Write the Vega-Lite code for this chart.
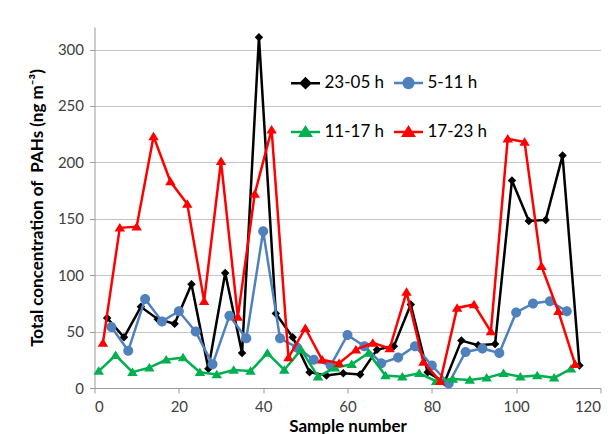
{
  "$schema": "https://vega.github.io/schema/vega-lite/v6.json",
  "width": 506,
  "height": 361,
  "autosize": "none",
  "padding": {"left": 94.5, "top": 27, "right": 13.5, "bottom": 46},
  "background": "white",
  "config": {
    "view": {"stroke": null},
    "font": "Lato",
    "axis": {
      "labelFont": "Lato",
      "titleFont": "Lato",
      "labelFontSize": 15,
      "labelColor": "#404040",
      "domainColor": "#9a9a9a",
      "tickColor": "#9a9a9a",
      "tickSize": 5,
      "titleFontSize": 17,
      "titleFontWeight": "bold",
      "titleColor": "#000000"
    },
    "legend": {"labelFont": "Lato"}
  },
  "data": {
    "values": [
      {"period": "23-05 h", "sample": 3, "conc": 62},
      {"period": "23-05 h", "sample": 7, "conc": 45},
      {"period": "23-05 h", "sample": 11, "conc": 72},
      {"period": "23-05 h", "sample": 15, "conc": 61},
      {"period": "23-05 h", "sample": 19, "conc": 57},
      {"period": "23-05 h", "sample": 23, "conc": 92},
      {"period": "23-05 h", "sample": 27, "conc": 17},
      {"period": "23-05 h", "sample": 31, "conc": 102},
      {"period": "23-05 h", "sample": 35, "conc": 31},
      {"period": "23-05 h", "sample": 39, "conc": 311},
      {"period": "23-05 h", "sample": 43, "conc": 66},
      {"period": "23-05 h", "sample": 47, "conc": 45},
      {"period": "23-05 h", "sample": 51, "conc": 14},
      {"period": "23-05 h", "sample": 55, "conc": 11},
      {"period": "23-05 h", "sample": 59, "conc": 13},
      {"period": "23-05 h", "sample": 63, "conc": 12},
      {"period": "23-05 h", "sample": 67, "conc": 34},
      {"period": "23-05 h", "sample": 71, "conc": 37},
      {"period": "23-05 h", "sample": 75, "conc": 74},
      {"period": "23-05 h", "sample": 79, "conc": 14},
      {"period": "23-05 h", "sample": 83, "conc": 5},
      {"period": "23-05 h", "sample": 87, "conc": 42},
      {"period": "23-05 h", "sample": 91, "conc": 38},
      {"period": "23-05 h", "sample": 95, "conc": 39},
      {"period": "23-05 h", "sample": 99, "conc": 184},
      {"period": "23-05 h", "sample": 103, "conc": 148},
      {"period": "23-05 h", "sample": 107, "conc": 149},
      {"period": "23-05 h", "sample": 111, "conc": 206},
      {"period": "23-05 h", "sample": 115, "conc": 20},
      {"period": "5-11 h", "sample": 4, "conc": 54},
      {"period": "5-11 h", "sample": 8, "conc": 33},
      {"period": "5-11 h", "sample": 12, "conc": 79},
      {"period": "5-11 h", "sample": 16, "conc": 59},
      {"period": "5-11 h", "sample": 20, "conc": 68},
      {"period": "5-11 h", "sample": 24, "conc": 50},
      {"period": "5-11 h", "sample": 28, "conc": 21},
      {"period": "5-11 h", "sample": 32, "conc": 64},
      {"period": "5-11 h", "sample": 36, "conc": 44},
      {"period": "5-11 h", "sample": 40, "conc": 139},
      {"period": "5-11 h", "sample": 44, "conc": 44},
      {"period": "5-11 h", "sample": 48, "conc": 36},
      {"period": "5-11 h", "sample": 52, "conc": 25},
      {"period": "5-11 h", "sample": 56, "conc": 20},
      {"period": "5-11 h", "sample": 60, "conc": 47},
      {"period": "5-11 h", "sample": 64, "conc": 37},
      {"period": "5-11 h", "sample": 68, "conc": 22},
      {"period": "5-11 h", "sample": 72, "conc": 27},
      {"period": "5-11 h", "sample": 76, "conc": 37},
      {"period": "5-11 h", "sample": 80, "conc": 20},
      {"period": "5-11 h", "sample": 84, "conc": 4},
      {"period": "5-11 h", "sample": 88, "conc": 32},
      {"period": "5-11 h", "sample": 92, "conc": 35},
      {"period": "5-11 h", "sample": 96, "conc": 31},
      {"period": "5-11 h", "sample": 100, "conc": 67},
      {"period": "5-11 h", "sample": 104, "conc": 75},
      {"period": "5-11 h", "sample": 108, "conc": 77},
      {"period": "5-11 h", "sample": 112, "conc": 68},
      {"period": "11-17 h", "sample": 1, "conc": 15},
      {"period": "11-17 h", "sample": 5, "conc": 29},
      {"period": "11-17 h", "sample": 9, "conc": 14},
      {"period": "11-17 h", "sample": 13, "conc": 18},
      {"period": "11-17 h", "sample": 17, "conc": 25},
      {"period": "11-17 h", "sample": 21, "conc": 27},
      {"period": "11-17 h", "sample": 25, "conc": 14},
      {"period": "11-17 h", "sample": 29, "conc": 12},
      {"period": "11-17 h", "sample": 33, "conc": 16},
      {"period": "11-17 h", "sample": 37, "conc": 15},
      {"period": "11-17 h", "sample": 41, "conc": 31},
      {"period": "11-17 h", "sample": 45, "conc": 16},
      {"period": "11-17 h", "sample": 49, "conc": 34},
      {"period": "11-17 h", "sample": 53, "conc": 10},
      {"period": "11-17 h", "sample": 57, "conc": 18},
      {"period": "11-17 h", "sample": 61, "conc": 21},
      {"period": "11-17 h", "sample": 65, "conc": 31},
      {"period": "11-17 h", "sample": 69, "conc": 11},
      {"period": "11-17 h", "sample": 73, "conc": 10},
      {"period": "11-17 h", "sample": 77, "conc": 13},
      {"period": "11-17 h", "sample": 81, "conc": 6},
      {"period": "11-17 h", "sample": 85, "conc": 8},
      {"period": "11-17 h", "sample": 89, "conc": 7},
      {"period": "11-17 h", "sample": 93, "conc": 9},
      {"period": "11-17 h", "sample": 97, "conc": 13},
      {"period": "11-17 h", "sample": 101, "conc": 10},
      {"period": "11-17 h", "sample": 105, "conc": 11},
      {"period": "11-17 h", "sample": 109, "conc": 9},
      {"period": "11-17 h", "sample": 113, "conc": 17},
      {"period": "17-23 h", "sample": 2, "conc": 40},
      {"period": "17-23 h", "sample": 6, "conc": 142},
      {"period": "17-23 h", "sample": 10, "conc": 143},
      {"period": "17-23 h", "sample": 14, "conc": 223},
      {"period": "17-23 h", "sample": 18, "conc": 183},
      {"period": "17-23 h", "sample": 22, "conc": 163},
      {"period": "17-23 h", "sample": 26, "conc": 77},
      {"period": "17-23 h", "sample": 30, "conc": 201},
      {"period": "17-23 h", "sample": 34, "conc": 63},
      {"period": "17-23 h", "sample": 38, "conc": 172},
      {"period": "17-23 h", "sample": 42, "conc": 229},
      {"period": "17-23 h", "sample": 46, "conc": 27},
      {"period": "17-23 h", "sample": 50, "conc": 53},
      {"period": "17-23 h", "sample": 54, "conc": 25},
      {"period": "17-23 h", "sample": 58, "conc": 22},
      {"period": "17-23 h", "sample": 62, "conc": 34},
      {"period": "17-23 h", "sample": 66, "conc": 40},
      {"period": "17-23 h", "sample": 70, "conc": 35},
      {"period": "17-23 h", "sample": 74, "conc": 85},
      {"period": "17-23 h", "sample": 78, "conc": 23},
      {"period": "17-23 h", "sample": 82, "conc": 6},
      {"period": "17-23 h", "sample": 86, "conc": 71},
      {"period": "17-23 h", "sample": 90, "conc": 74},
      {"period": "17-23 h", "sample": 94, "conc": 50},
      {"period": "17-23 h", "sample": 98, "conc": 221},
      {"period": "17-23 h", "sample": 102, "conc": 218},
      {"period": "17-23 h", "sample": 106, "conc": 108},
      {"period": "17-23 h", "sample": 110, "conc": 68},
      {"period": "17-23 h", "sample": 114, "conc": 21}
    ]
  },
  "encoding": {
    "x": {
      "field": "sample",
      "type": "quantitative",
      "scale": {"domain": [0, 120], "nice": false, "zero": false},
      "axis": {
        "values": [0, 20, 40, 60, 80, 100, 120],
        "grid": false,
        "title": "Sample number",
        "labelPadding": 6,
        "titlePadding": 4
      }
    },
    "y": {
      "field": "conc",
      "type": "quantitative",
      "scale": {"domain": [0, 320], "nice": false},
      "axis": {
        "values": [0, 50, 100, 150, 200, 250, 300],
        "grid": true,
        "gridColor": "#c4c4c4",
        "gridWidth": 1,
        "title": "Total concentration of\u00a0 PAHs (ng m\u207b\u00b3)",
        "labelPadding": 6,
        "titlePadding": 11
      }
    },
    "color": {
      "field": "period",
      "type": "nominal",
      "scale": {
        "domain": ["23-05 h", "11-17 h", "5-11 h", "17-23 h"],
        "range": ["#000000", "#00b050", "#4f81bd", "#ff0000"]
      },
      "legend": {
        "title": null,
        "orient": "none",
        "legendX": 195,
        "legendY": 40,
        "columns": 2,
        "columnPadding": 4,
        "rowPadding": 23,
        "padding": 0,
        "symbolSize": 841,
        "symbolStrokeWidth": 2.5,
        "labelFontSize": 17,
        "labelColor": "#000000",
        "labelOffset": 3,
        "labelExpr": "datum.value === '5-11 h' ? '\u00a0\u00a0\u00a05-11 h' : datum.value",
        "encode": {
          "symbols": {
            "update": {
              "shape": {"signal": "datum.value === '23-05 h' ? 'M-1,0H1M0,-0.32L0.32,0L0,0.32L-0.32,0Z' : datum.value === '5-11 h' ? 'M-1,0H1M-0.34,0A0.34,0.34,0,1,0,0.34,0A0.34,0.34,0,1,0,-0.34,0Z' : 'M-1,0H1M0,-0.32L0.36,0.26L-0.36,0.26Z'"},
              "stroke": {"signal": "scale('color', datum.value)"}
            }
          }
        }
      }
    }
  },
  "layer": [
    {
      "transform": [{"filter": "datum.period === '23-05 h'"}],
      "mark": {"type": "line", "strokeWidth": 2.5, "point": {"filled": true, "size": 100, "opacity": 1, "shape": "M0,-0.85L0.85,0L0,0.85L-0.85,0Z"}}
    },
    {
      "transform": [{"filter": "datum.period === '5-11 h'"}],
      "mark": {"type": "line", "strokeWidth": 2.5, "point": {"filled": true, "size": 100, "opacity": 1, "shape": "M-1,0A1,1,0,1,0,1,0A1,1,0,1,0,-1,0Z"}}
    },
    {
      "transform": [{"filter": "datum.period === '11-17 h'"}],
      "mark": {"type": "line", "strokeWidth": 2.5, "point": {"filled": true, "size": 100, "opacity": 1, "shape": "M0,-0.95L1.05,0.75L-1.05,0.75Z"}}
    },
    {
      "transform": [{"filter": "datum.period === '17-23 h'"}],
      "mark": {"type": "line", "strokeWidth": 2.5, "point": {"filled": true, "size": 100, "opacity": 1, "shape": "M0,-0.95L1.05,0.75L-1.05,0.75Z"}}
    }
  ]
}
